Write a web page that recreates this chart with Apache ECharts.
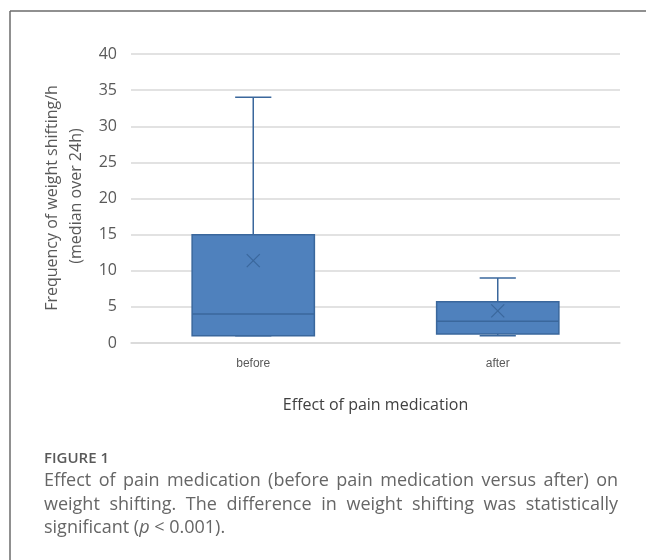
<!DOCTYPE html>
<html>
<head>
<meta charset="utf-8">
<script src="https://cdn.jsdelivr.net/npm/echarts@6/dist/echarts.min.js"></script>
<style>
html,body{margin:0;padding:0;background:#fff;}
#chart{width:646px;height:560px;}
</style>
</head>
<body>
<div id="chart"></div>
<script>
const categories = ['before', 'after'];
const whiskerLow = [1, 1];
const q1 = [1, 1.25];
const median = [4, 3];
const q3 = [15, 5.7];
const whiskerHigh = [34, 9];
const means = [11.4, 4.45];
const yTicks = { min: 0, max: 40, interval: 5 };

const yTitle1 = 'Frequency of weight shifting/h';
const yTitle2 = '(median over 24h)';
const xTitle = 'Effect of pain medication';
const figLabel = 'FIGURE 1';
const captionLine1 = 'Effect of pain medication (before pain medication versus after) on';
const captionLine2 = 'weight shifting. The difference in weight shifting was statistically';
const captionLine3a = 'significant (';
const captionLine3p = 'p';
const captionLine3b = ' < 0.001).';

const data = categories.map((c, i) => [i, whiskerLow[i], q1[i], median[i], q3[i], whiskerHigh[i], means[i]]);

const BOX = '#4f81bd';
const EDGE = '#3a679c';

const chart = echarts.init(document.getElementById('chart'), null, { renderer: 'canvas' });

function renderItem(params, api) {
  const i = api.value(0);
  const band = api.size([1, 0])[0];
  const x = api.coord([i, 0])[0];
  const yLow = api.coord([i, api.value(1)])[1];
  const yQ1 = api.coord([i, api.value(2)])[1];
  const yMed = api.coord([i, api.value(3)])[1];
  const yQ3 = api.coord([i, api.value(4)])[1];
  const yHigh = api.coord([i, api.value(5)])[1];
  const yMean = api.coord([i, api.value(6)])[1];
  const bw = band * 0.5;
  const cw = band * 0.148;
  const ls = { stroke: EDGE, lineWidth: 1.5, fill: null };
  const m = 6.5;
  return {
    type: 'group',
    children: [
      { type: 'line', shape: { x1: x, y1: yHigh, x2: x, y2: yQ3 }, style: ls },
      { type: 'line', shape: { x1: x - cw / 2, y1: yHigh, x2: x + cw / 2, y2: yHigh }, style: ls },
      { type: 'line', shape: { x1: x, y1: yLow, x2: x, y2: yQ1 }, style: ls },
      { type: 'line', shape: { x1: x - cw / 2, y1: yLow, x2: x + cw / 2, y2: yLow }, style: ls },
      { type: 'rect', shape: { x: x - bw / 2, y: yQ3, width: bw, height: yQ1 - yQ3 }, style: { fill: BOX, stroke: EDGE, lineWidth: 1.5 } },
      { type: 'line', shape: { x1: x - bw / 2, y1: yMed, x2: x + bw / 2, y2: yMed }, style: ls },
      { type: 'line', shape: { x1: x - m, y1: yMean - m, x2: x + m, y2: yMean + m }, style: { stroke: EDGE, lineWidth: 1.2 } },
      { type: 'line', shape: { x1: x - m, y1: yMean + m, x2: x + m, y2: yMean - m }, style: { stroke: EDGE, lineWidth: 1.2 } }
    ]
  };
}

const CAP_FONT = 'Open Sans';
const CAP_SIZE = 18;
const CAP_COLOR = '#666666';
const CAP_LEFT = 44;
const CAP_RIGHT = 618;

// justified caption line: words spread across the caption width
const measureCtx = document.createElement('canvas').getContext('2d');
measureCtx.font = CAP_SIZE + 'px "' + CAP_FONT + '"';
function justifiedLine(text, y) {
  const words = text.split(' ');
  const widths = words.map(w => measureCtx.measureText(w).width);
  const total = widths.reduce((a, b) => a + b, 0);
  const gap = (CAP_RIGHT - CAP_LEFT - total) / (words.length - 1);
  let x = CAP_LEFT;
  return words.map((w, k) => {
    const el = { type: 'text', x: x, y: y, style: { text: w, fontFamily: CAP_FONT, fontSize: CAP_SIZE, fill: CAP_COLOR, align: 'left', verticalAlign: 'middle' } };
    x += widths[k] + gap;
    return el;
  });
}

chart.setOption({
  animation: false,
  backgroundColor: '#ffffff',
  grid: { left: 131, right: 26, top: 54, bottom: 217 },
  xAxis: {
    type: 'category',
    data: categories,
    name: xTitle,
    nameLocation: 'middle',
    nameGap: 54,
    nameTextStyle: { fontFamily: 'Open Sans', fontSize: 16, color: '#404040' },
    axisLine: { lineStyle: { color: '#d9d9d9', width: 1.5 } },
    axisTick: { show: false },
    axisLabel: { fontFamily: 'Liberation Sans', fontSize: 12, color: '#595959', margin: 15 }
  },
  yAxis: {
    type: 'value',
    min: yTicks.min,
    max: yTicks.max,
    interval: yTicks.interval,
    axisLine: { show: false },
    axisTick: { show: false },
    axisLabel: { fontFamily: 'Open Sans', fontSize: 16, color: '#595959', margin: 14 },
    splitLine: { lineStyle: { color: '#d9d9d9', width: 1.5 } }
  },
  series: [{
    type: 'custom',
    renderItem: renderItem,
    data: data,
    encode: { x: 0, y: [1, 2, 3, 4, 5, 6] },
    z: 3
  }],
  graphic: [
    { type: 'line', shape: { x1: 10, y1: 11, x2: 646, y2: 11 }, style: { stroke: '#6b6b6b', lineWidth: 1.5 } },
    { type: 'line', shape: { x1: 10, y1: 11, x2: 10, y2: 560 }, style: { stroke: '#6b6b6b', lineWidth: 1.5 } },
    { type: 'text', x: 52, y: 198, rotation: Math.PI / 2, style: { text: yTitle1, fontFamily: 'Open Sans', fontSize: 16, fill: '#595959', align: 'center', verticalAlign: 'middle' } },
    { type: 'text', x: 76, y: 196, rotation: Math.PI / 2, style: { text: yTitle2, fontFamily: 'Open Sans', fontSize: 16, fill: '#595959', align: 'center', verticalAlign: 'middle' } },
    { type: 'text', x: CAP_LEFT, y: 459, style: { text: figLabel, fontFamily: 'Open Sans', fontWeight: 600, fontSize: 15, fill: '#595959', align: 'left', verticalAlign: 'middle' } }
  ].concat(justifiedLine(captionLine1, 481), justifiedLine(captionLine2, 505), [
    { type: 'text', x: CAP_LEFT, y: 528, style: {
        text: '{n|' + captionLine3a + '}{i|' + captionLine3p + '}{n|' + captionLine3b + '}',
        align: 'left', verticalAlign: 'middle',
        fontFamily: CAP_FONT, fontSize: CAP_SIZE, fill: CAP_COLOR,
        rich: {
          n: { fontFamily: CAP_FONT, fontSize: CAP_SIZE, color: CAP_COLOR },
          i: { fontFamily: CAP_FONT, fontSize: CAP_SIZE, color: CAP_COLOR, fontStyle: 'italic' }
        }
      } }
  ])
});
</script>
</body>
</html>
